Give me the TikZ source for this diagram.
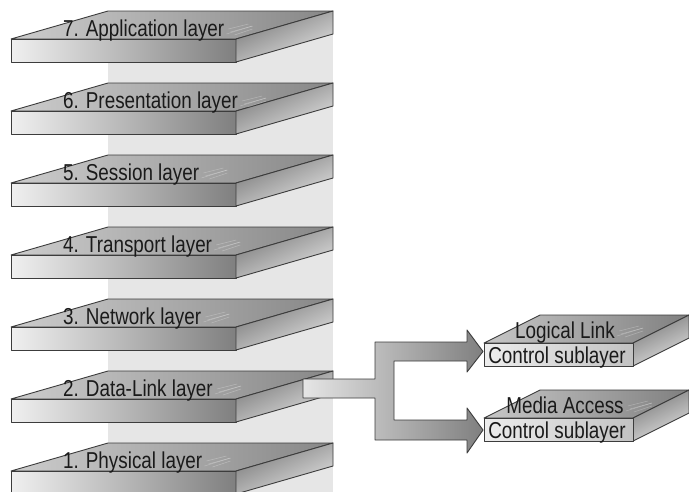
\documentclass[tikz,border=0pt]{standalone}
\usepackage{fontspec}
\newfontfamily\labfont[FakeStretch=0.82]{Liberation Sans}
\definecolor{edgegray}{HTML}{3C3C3C}
\definecolor{column}{HTML}{E6E6E6}
\definecolor{inkgray}{HTML}{1A1A1A}
\tikzset{
  edge/.style={draw=edgegray, line width=0.9pt, line join=round},
  topface/.style={edge, left color=black!20, right color=black!47},
  frontface/.style={edge, left color=black!6, right color=black!50},
  sideface/.style={edge, shading=axis, top color=black!52, bottom color=black!12, shading angle=25},
  subfront/.style={edge, left color=black!7, right color=black!24},
  subtop/.style={edge, left color=black!22, right color=black!50},
  blockarrow/.style={edge, left color=black!10, right color=black!50},
  streak/.style={draw=white, opacity=0.28, line width=0.5pt},
  lab/.style={inner sep=0pt, text=inkgray, font=\labfont\fontsize{23}{25}\selectfont}
}
% faint brushed marks on a top face, just after a caption
\newcommand\streaks[1]{%
  \draw[streak] ([shift={(2,-2)}]#1.base east) -- ++(26,-8);
  \draw[streak] ([shift={(6,-4)}]#1.base east) -- ++(22,-6);
  \draw[streak] ([shift={(4,-7)}]#1.base east) -- ++(20,-5);
  \draw[streak] ([shift={(10,-1)}]#1.base east) -- ++(18,-6);
}
% one OSI layer slab: #1 node name, #2 y of the back edge, #3 caption
\newcommand\layerslab[3]{%
  \fill[column] (108,#2+23) rectangle (333,#2+72);
  \path[topface] (108,#2) -- (333,#2) -- (236,#2+28) -- (11,#2+28) -- cycle;
  \path[frontface] (11,#2+28) rectangle (236,#2+51);
  \path[sideface] (236,#2+28) -- (333,#2) -- (333,#2+23) -- (236,#2+51) -- cycle;
  \node[lab, anchor=base west] (#1) at (63,#2+25) {#3};
  \streaks{#1}
}
% one sublayer slab: #1 node name, #2 y of the front top edge, #3/#4 the two text lines
\newcommand\subslab[4]{%
  \path[subtop] (484,#2) -- (540,#2-28) -- (689,#2-28) -- (633,#2) -- cycle;
  \path[sideface] (633,#2) -- (689,#2-28) -- (689,#2-5) -- (633,#2+23) -- cycle;
  \path[subfront] (484,#2) rectangle (633,#2+23);
  \node[lab, anchor=base] (#1-top) at (565,#2-5) {#3};
  \streaks{#1-top}
  \node[lab, anchor=base] (#1) at (557,#2+20) {#4};
}
\begin{document}
\begin{tikzpicture}[x=1pt, y=-1pt]
  \useasboundingbox (0,0) rectangle (689,491);
  \clip (0,0) rectangle (689,491);
  \fill[white] (0,0) rectangle (689,491);
  \fill[column] (108,11) rectangle (333,491);

  \layerslab{app}{11}{7. Application layer}
  \layerslab{pres}{83}{6. Presentation layer}
  \layerslab{sess}{155}{5. Session layer}
  \layerslab{trans}{227}{4. Transport layer}
  \layerslab{net}{299}{3. Network layer}
  \layerslab{dl}{371}{2. Data-Link layer}
  \layerslab{phys}{443}{1. Physical layer}

  % split arrow from the data-link layer to its two sublayers
  \coordinate (fork) at (375,379);
  \path[blockarrow] (303,379) -- (fork) -- (375,342) -- (467,342) -- (467,330)
    -- (483,351.5) -- (467,372) -- (467,361) -- (394,361) -- (394,420)
    -- (467,420) -- (467,408) -- (483,430) -- (467,453) -- (467,440)
    -- (375,440) -- (375,398) -- (303,398) -- cycle;

  \subslab{llc}{343}{Logical Link}{Control sublayer}
  \subslab{mac}{418}{Media Access}{Control sublayer}
\end{tikzpicture}
\end{document}
